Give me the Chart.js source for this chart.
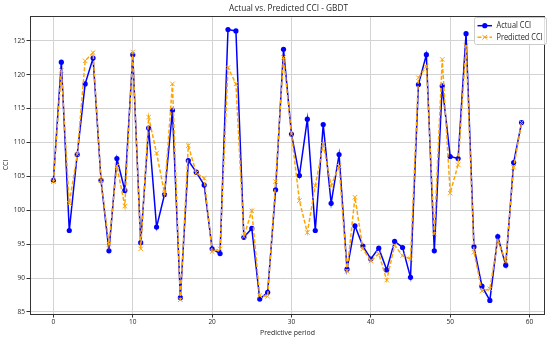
<!DOCTYPE html>
<html>
<head>
<meta charset="utf-8">
<script src="https://cdn.jsdelivr.net/npm/chart.js@4.4.1/dist/chart.umd.min.js"></script>
<style>
  html, body { margin: 0; padding: 0; background: #fff; }
  #wrap { width: 550px; height: 340px; }
</style>
</head>
<body>
<div id="wrap"><canvas id="c" width="550" height="340"></canvas></div>
<script>
const periods = Array.from({length: 60}, (_, i) => i);
const actualCCI = [
  104.4, 121.8, 97.0, 108.2, 118.6, 122.4, 104.4, 94.0, 107.6, 102.9,
  122.9, 95.2, 112.1, 97.5, 102.3, 114.7, 87.1, 107.3, 105.6, 103.7,
  94.3, 93.6, 126.6, 126.4, 96.0, 97.3, 86.9, 87.9, 103.0, 123.7,
  111.2, 105.1, 113.4, 97.0, 112.6, 101.0, 108.2, 91.3, 97.7, 94.7,
  92.8, 94.4, 91.2, 95.4, 94.5, 90.1, 118.5, 122.9, 94.0, 118.3,
  107.9, 107.6, 126.0, 94.6, 88.8, 86.7, 96.1, 91.9, 107.0, 112.9
];
const predictedCCI = [
  104.2, 120.6, 101.0, 108.2, 122.0, 123.2, 104.4, 95.0, 106.5, 100.6,
  123.3, 94.3, 113.7, 108.4, 102.5, 118.6, 86.8, 109.5, 105.5, 104.7,
  93.9, 94.3, 121.0, 118.6, 96.1, 99.9, 87.4, 87.3, 104.2, 122.5,
  111.2, 101.4, 96.7, 103.6, 109.7, 103.6, 106.5, 91.0, 101.9, 94.3,
  92.5, 93.6, 89.7, 94.8, 93.3, 92.8, 119.5, 121.2, 96.5, 122.2,
  102.5, 106.7, 124.2, 93.8, 88.1, 88.4, 95.5, 92.5, 106.3, 112.9
];
const xTicks = [0, 10, 20, 30, 40, 50, 60];
const yTicks = [85, 90, 95, 100, 105, 110, 115, 120, 125];
const seriesNames = ['Actual CCI', 'Predicted CCI'];
const chartTitle = 'Actual vs. Predicted CCI - GBDT';
const xTitle = 'Predictive period';
const yTitle = 'CCI';

const FONT = "'Open Sans', 'Liberation Sans', sans-serif";
const SQUEEZE = 0.87;
const TEXT = '#262626';
const BLUE = '#0000ff';
const ORANGE = '#ffa500';

const toXY = (arr) => arr.map((v, i) => ({x: periods[i], y: v}));

function drawText(ctx, text, x, y, size, align, rot) {
  ctx.save();
  ctx.translate(x, y);
  if (rot) ctx.rotate(rot);
  ctx.scale(SQUEEZE, 1);
  ctx.font = size + "px " + FONT;
  ctx.fillStyle = TEXT;
  ctx.textAlign = align;
  ctx.textBaseline = 'middle';
  ctx.fillText(text, 0, 0);
  ctx.restore();
}

const textPlugin = {
  id: 'mplText',
  afterDraw(chart) {
    const {ctx, chartArea: a, scales} = chart;
    const cx = (a.left + a.right) / 2;
    drawText(ctx, chartTitle, cx + 1, 8, 9.5, 'center');
    scales.x.ticks.forEach(t => {
      drawText(ctx, String(t.value), scales.x.getPixelForValue(t.value), a.bottom + 7.8, 7.5, 'center');
    });
    scales.y.ticks.forEach(t => {
      drawText(ctx, String(t.value), a.left - 5, scales.y.getPixelForValue(t.value), 7.5, 'right');
    });
    drawText(ctx, xTitle, cx, 333, 8, 'center');
    drawText(ctx, yTitle, 6, (a.top + a.bottom) / 2, 8, 'center', -Math.PI / 2);
  }
};

const spinePlugin = {
  id: 'spines',
  afterDatasetsDraw(chart) {
    const {ctx, chartArea: a} = chart;
    ctx.save();
    ctx.strokeStyle = '#333333';
    ctx.lineWidth = 1;
    ctx.strokeRect(Math.round(a.left) + 0.5, Math.round(a.top) + 0.5,
                   Math.round(a.right - a.left) - 1, Math.round(a.bottom - a.top));
    ctx.restore();
  }
};

const legendPlugin = {
  id: 'mplLegend',
  afterDraw(chart) {
    const {ctx} = chart;
    const x0 = 474.5, y0 = 17.5, w = 72, h = 27;
    ctx.save();
    ctx.fillStyle = 'rgba(255,255,255,0.85)';
    ctx.strokeStyle = '#cccccc';
    ctx.lineWidth = 1;
    ctx.beginPath();
    if (ctx.roundRect) ctx.roundRect(x0, y0, w, h, 2); else ctx.rect(x0, y0, w, h);
    ctx.fill();
    ctx.stroke();
    const rows = [
      {y: 25.7, color: BLUE, dash: [], marker: 'circle'},
      {y: 37.3, color: ORANGE, dash: [4, 2], marker: 'x'}
    ];
    rows.forEach((r, i) => {
      ctx.strokeStyle = r.color;
      ctx.lineWidth = 1.5;
      ctx.setLineDash(r.dash);
      ctx.beginPath();
      ctx.moveTo(477.5, r.y);
      ctx.lineTo(492, r.y);
      ctx.stroke();
      ctx.setLineDash([]);
      if (r.marker === 'circle') {
        ctx.fillStyle = r.color;
        ctx.beginPath();
        ctx.arc(484.8, r.y, 2.6, 0, Math.PI * 2);
        ctx.fill();
      } else {
        ctx.lineWidth = 1;
        const s = 2.4;
        ctx.beginPath();
        ctx.moveTo(484.8 - s, r.y - s); ctx.lineTo(484.8 + s, r.y + s);
        ctx.moveTo(484.8 - s, r.y + s); ctx.lineTo(484.8 + s, r.y - s);
        ctx.stroke();
      }
      drawText(ctx, seriesNames[i], 496.5, r.y, 8.5, 'left');
    });
    ctx.restore();
  }
};

new Chart(document.getElementById('c'), {
  type: 'line',
  data: {
    datasets: [
      {
        label: seriesNames[0],
        data: toXY(actualCCI),
        borderColor: BLUE,
        backgroundColor: BLUE,
        borderWidth: 1.5,
        pointStyle: 'circle',
        pointRadius: 2.6,
        pointBorderWidth: 0,
        pointBackgroundColor: BLUE,
        tension: 0,
        fill: false,
        order: 2
      },
      {
        label: seriesNames[1],
        data: toXY(predictedCCI),
        borderColor: ORANGE,
        backgroundColor: ORANGE,
        borderWidth: 1.5,
        borderDash: [4, 2],
        pointStyle: 'crossRot',
        pointRadius: 3.2,
        pointBorderWidth: 1,
        pointBorderColor: ORANGE,
        tension: 0,
        fill: false,
        order: 1
      }
    ]
  },
  options: {
    responsive: false,
    animation: false,
    devicePixelRatio: 1,
    layout: { padding: { left: 0, right: 2, top: 16, bottom: 0 } },
    plugins: {
      legend: { display: false },
      tooltip: { enabled: false },
      title: { display: false }
    },
    scales: {
      x: {
        type: 'linear',
        min: -2.95,
        max: 61.95,
        afterBuildTicks(scale) { scale.ticks = xTicks.map(v => ({value: v})); },
        afterFit(scale) { scale.height = 26; },
        ticks: { display: false },
        grid: {
          color: '#d3d3d3',
          lineWidth: 1,
          drawTicks: true,
          tickLength: 3.5,
          tickColor: '#333333'
        },
        border: { display: false },
        title: { display: false }
      },
      y: {
        type: 'linear',
        min: 84.7,
        max: 128.6,
        afterBuildTicks(scale) { scale.ticks = yTicks.map(v => ({value: v})); },
        afterFit(scale) { scale.width = 30; },
        ticks: { display: false },
        grid: {
          color: '#d3d3d3',
          lineWidth: 1,
          drawTicks: true,
          tickLength: 3.5,
          tickColor: '#333333'
        },
        border: { display: false },
        title: { display: false }
      }
    }
  },
  plugins: [spinePlugin, legendPlugin, textPlugin]
});
</script>
</body>
</html>
